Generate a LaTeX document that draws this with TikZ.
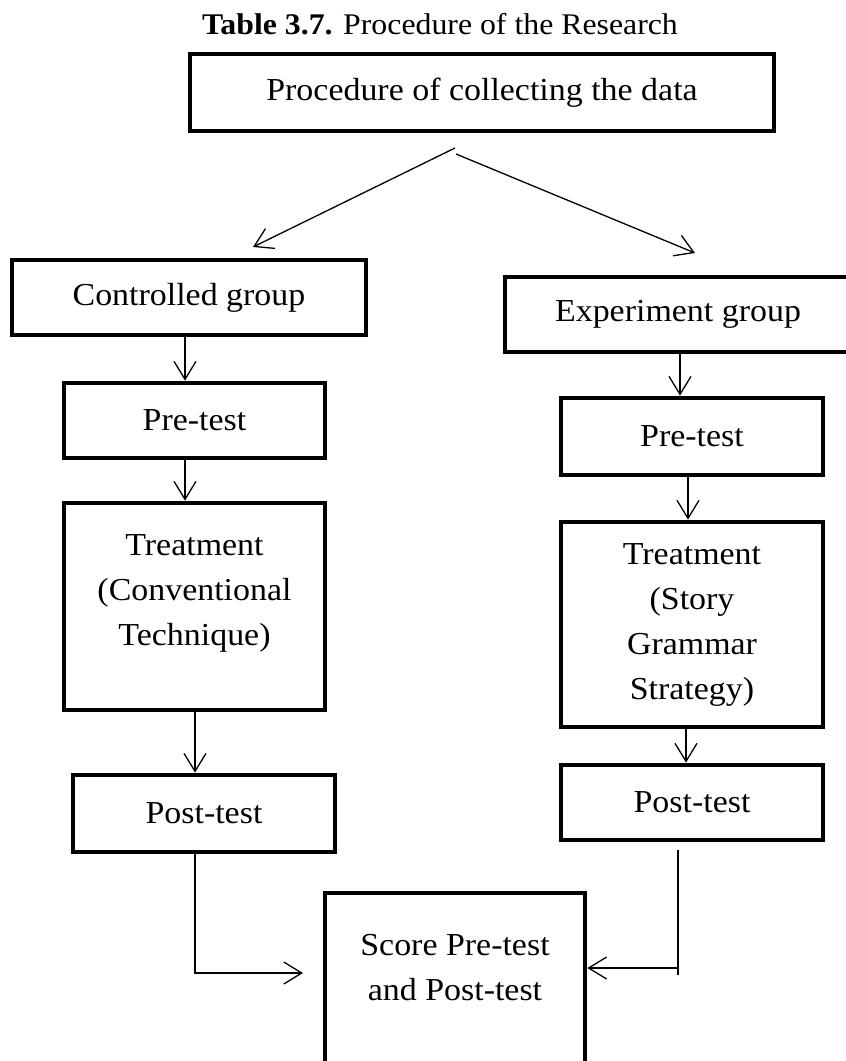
\documentclass[tikz,border=0pt]{standalone}
\usepackage{fontspec}
\setmainfont{Liberation Serif}[FakeStretch=1.06]
\usetikzlibrary{arrows.meta}
\tikzset{
  box/.style={draw=black, line width=4.8pt, inner sep=0pt, align=center,
    font=\fontsize{32}{45}\selectfont},
  txt/.style={inner sep=0pt, align=center, font=\fontsize{32}{45}\selectfont},
  arr/.style={line width=1.3pt, -{Straight Barb[length=18pt,width=22pt]}},
  plain/.style={line width=1.3pt}
}
\begin{document}
\begin{tikzpicture}[x=1pt,y=-1pt]
\useasboundingbox (0,0) rectangle (846,1061);
\clip (0,0) rectangle (846,1061);
\node[txt, font=\fontsize{30}{36}\selectfont] (title) at (440,24) {\textbf{Table 3.7.} Procedure of the Research};
\node[box, minimum width=584pt, minimum height=77pt] (top) at (482,92.5) {Procedure of collecting the data};
\node[box, minimum width=354pt, minimum height=75pt] (ctrl) at (189,297.5) {Controlled group};
\node[box, minimum width=346pt, minimum height=75pt] (exp) at (678,314.5) {Experiment group};
\node[box, minimum width=261pt, minimum height=75pt] (preL) at (194.5,420.5) {Pre-test};
\node[box, minimum width=261pt, minimum height=207pt] (treatL) at (194.5,606.5) {};
\node[txt] (treatLt) at (194.5,593) {Treatment\\(Conventional\\Technique)};
\node[box, minimum width=262pt, minimum height=77pt] (postL) at (204,813.5) {Post-test};
\node[box, minimum width=262pt, minimum height=77pt] (preR) at (692,436.5) {Pre-test};
\node[box, minimum width=262pt, minimum height=205pt] (treatR) at (692,624.5) {Treatment\\(Story\\Grammar\\Strategy)};
\node[box, minimum width=262pt, minimum height=75pt] (postR) at (692,802.5) {Post-test};
\node[box, minimum width=260pt, minimum height=197pt] (score) at (455,991.5) {};
\node[txt] (scoret) at (455,968) {Score Pre-test\\and Post-test};
% split arrows
\coordinate (sA) at (455,148);
\coordinate (sB) at (456,154);
\coordinate (tA) at (253,247);
\coordinate (tB) at (695,253);
\draw[arr] (sA) -- (tA);
\draw[arr] (sB) -- (tB);
% left column
\draw[arr] ([xshift=-4pt]ctrl.south) -- ([xshift=-4pt]ctrl.south |- preL.north);
\draw[arr] ([xshift=-9.5pt]preL.south) -- ([xshift=-9.5pt]preL.south |- treatL.north);
\draw[arr] ([xshift=0.5pt]treatL.south) -- ([xshift=0.5pt]treatL.south |- postL.north);
% right column
\draw[arr] ([xshift=2pt]exp.south) -- ([xshift=2pt]exp.south |- preR.north);
\draw[arr] ([xshift=-4pt]preR.south) -- ([xshift=-4pt]preR.south |- treatR.north);
\draw[arr] ([xshift=-6pt]treatR.south) -- ([xshift=-6pt]treatR.south |- postR.north);
% to score
\coordinate (lC) at (195,973);
\coordinate (lT) at (303,973);
\draw[arr] ([xshift=-9pt]postL.south) -- (lC) -- (lT);
\coordinate (rA) at (678,850);
\coordinate (rB) at (678,975);
\coordinate (rC) at (678,968);
\draw[plain] (rA) -- (rB);
\draw[arr] (rC) -- (score.east |- rC);
\end{tikzpicture}
\end{document}
